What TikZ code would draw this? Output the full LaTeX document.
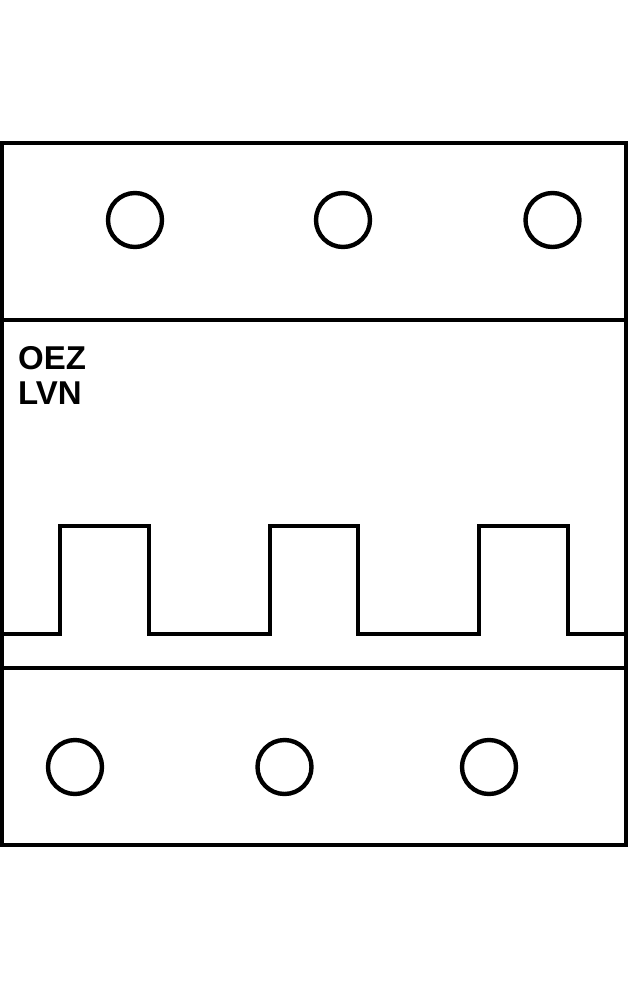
\documentclass[tikz,border=0pt]{standalone}
\usepackage{fontspec}
\setmainfont{Liberation Sans}
\usetikzlibrary{positioning}
\tikzset{%
	line/.style     = {line width=4.4pt},
	hole/.style     = {draw, circle, line width=4.4pt, minimum size=54pt, inner sep=0pt},
	brand/.style    = {font=\bfseries\fontsize{33}{35}\selectfont, align=left, anchor=north west, inner sep=0pt},
}
\begin{document}
\begin{tikzpicture}[x=1pt,y=-1pt]
	\useasboundingbox (0,0) rectangle (628,988);
	% outer frame
	\draw[line] (2,143) rectangle (626,845);
	\draw[line] (2,320) -- (626,320);
	\draw[line] (2,668) -- (626,668);
	% terminals
	\node [hole] (t1) at (135,220) {};
	\node [hole] (t2) at (343,220) {};
	\node [hole] (t3) at (552.5,220) {};
	\node [hole] (b1) at (75,767) {};
	\node [hole] (b2) at (284.5,767) {};
	\node [hole] (b3) at (489,767) {};
	\node [brand] (label) at (18,346.5) {OEZ\\LVN};
	% toggles
	\coordinate (start) at (2,634);
	\coordinate (stop) at (626,634);
	\draw[line,line join=miter] (start) -- (60,634) -- (60,526) -- (149,526) -- (149,634)
		-- (270,634) -- (270,526) -- (358,526) -- (358,634)
		-- (479,634) -- (479,526) -- (568,526) -- (568,634) -- (stop);
\end{tikzpicture}
\end{document}
